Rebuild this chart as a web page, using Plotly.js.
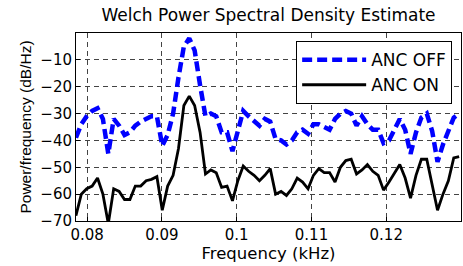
<!DOCTYPE html>
<html><head><meta charset="utf-8">
<script src="https://cdn.plot.ly/plotly-3.0.1.min.js"></script>
<style>html,body{margin:0;padding:0;background:#fff}#chart{width:463px;height:266px}</style>
</head><body><div id="chart"></div>
<script>
const freqKHz = [0.07849,0.07921,0.07993,0.08066,0.08138,0.08210,0.08282,0.08354,0.08427,0.08499,
0.08571,0.08643,0.08715,0.08788,0.08860,0.08932,0.09004,0.09076,0.09149,0.09221,
0.09293,0.09365,0.09437,0.09510,0.09582,0.09654,0.09726,0.09798,0.09871,0.09943,
0.10015,0.10087,0.10159,0.10232,0.10304,0.10376,0.10448,0.10520,0.10593,0.10665,
0.10737,0.10809,0.10881,0.10954,0.11026,0.11098,0.11170,0.11242,0.11315,0.11387,
0.11459,0.11531,0.11603,0.11676,0.11748,0.11820,0.11892,0.11964,0.12037,0.12109,
0.12181,0.12253,0.12325,0.12398,0.12470,0.12542,0.12614,0.12686,0.12759,0.12831,
0.12903,0.12975];
const ancOff = [-39,-34,-31,-29,-28,-32,-45,-32,-34.5,-38,
-37,-34.5,-33,-32,-31,-31,-42,-38,-30,-16.5,
-5,-2,-6.5,-19.5,-31,-30,-31,-37,-37,-44,
-37,-29,-31,-33,-34.5,-32,-33,-39.5,-40,-41.5,
-40,-37,-36,-37.5,-34,-34,-35,-36,-32,-30,
-29,-30,-34.5,-31,-34,-36,-36,-41,-40,-36,
-32,-36,-45,-37,-31.5,-30,-36.5,-48,-41.5,-36.5,
-31.5,-30];
const ancOn = [-68,-60,-58,-57,-54,-60,-71,-58,-59,-62,
-62,-57,-57,-55,-54.5,-53.5,-66,-57,-53,-43,
-27,-23.5,-27,-37,-52.5,-51,-52,-57.5,-57,-62.5,
-55,-49.5,-51.5,-53,-55,-53,-50.5,-60,-59,-60.5,
-58,-54,-55.5,-58,-53,-50.5,-52,-52,-55.5,-50,
-47.5,-47,-52.5,-51,-49,-51.5,-53,-58.5,-55.5,-52,
-49,-54,-61.5,-53,-47,-47,-57,-66,-60,-55,
-46.5,-46];
const xTicks = [0.08,0.09,0.1,0.11,0.12];
const xTickText = ["0.08","0.09","0.1","0.11","0.12"];
const yTicks = [-70,-60,-50,-40,-30,-20,-10];
const seriesNames = ["ANC OFF","ANC ON"];

const font = "DejaVu Sans, Liberation Sans, Arial, sans-serif";
const data = [
 {x: freqKHz, y: ancOff, name: seriesNames[0], type: 'scatter', mode: 'lines',
  line: {color: '#0000ff', width: 4.5, dash: '10px,5px'}},
 {x: freqKHz, y: ancOn, name: seriesNames[1], type: 'scatter', mode: 'lines',
  line: {color: '#000000', width: 2.8}}
];
const axisCommon = {
  showline: true, mirror: true, linecolor: '#000', linewidth: 1,
  showgrid: true, gridcolor: '#444', gridwidth: 1, griddash: '5px,4px',
  zeroline: false, ticks: 'inside', ticklen: 4, tickcolor: '#000',
  tickfont: {family: font, size: 15, color: '#000'}
};
const layout = {
  width: 463, height: 266,
  margin: {l: 76, r: 2, t: 33, b: 45},
  paper_bgcolor: '#fff', plot_bgcolor: '#fff',
  title: {text: 'Welch Power Spectral Density Estimate', font: {family: font, size: 17, color: '#000'},
          x: 0.5, xref: 'paper', xanchor: 'center', y: 0.965, yanchor: 'top'},
  xaxis: Object.assign({}, axisCommon, {range: [0.0785, 0.1300], tickvals: xTicks, ticktext: xTickText,
     ticklabelstandoff: 0,
     title: {text: 'Frequency (kHz)', font: {family: font, size: 16.5, color: '#000'}, standoff: 3}}),
  yaxis: Object.assign({}, axisCommon, {range: [-70, 0], tickvals: yTicks,
     title: {text: 'Power/frequency (dB/Hz)', font: {family: "Liberation Sans, Arial, sans-serif", size: 15.5, color: '#000'}, standoff: 4}}),
  showlegend: true,
  legend: {x: 0.977, xanchor: 'right', y: 0.957, yanchor: 'top', bgcolor: '#fff',
    bordercolor: '#000', borderwidth: 1, font: {family: font, size: 17, color: '#000'},
    itemwidth: 64, tracegroupgap: 0}
};
Plotly.newPlot('chart', data, layout, {staticPlot: true, displayModeBar: false});
</script></body></html>
